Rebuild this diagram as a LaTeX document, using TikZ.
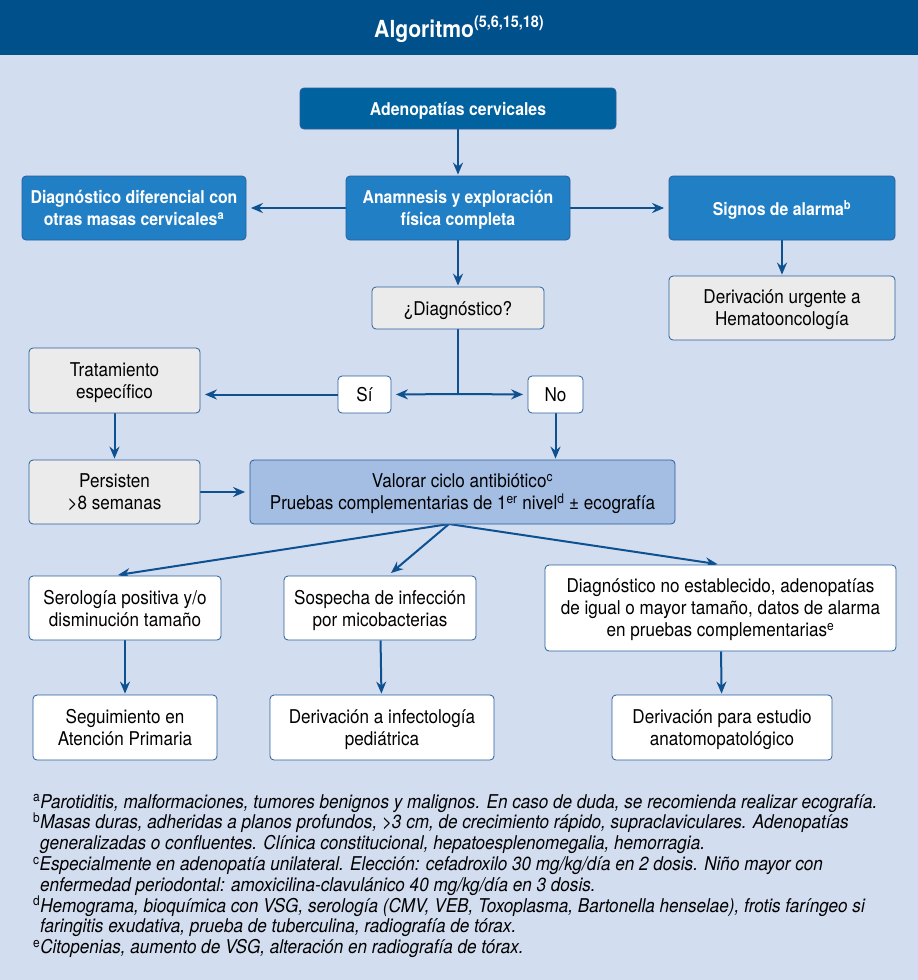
\documentclass[tikz,border=0pt]{standalone}
\usepackage{fontspec}
\setmainfont{TeX Gyre Heros}[FakeStretch=0.9]
\usetikzlibrary{arrows.meta}
\definecolor{pagebg}{RGB}{211,221,240}
\definecolor{titleblue}{RGB}{0,80,140}
\definecolor{topblue}{RGB}{0,99,160}
\definecolor{boxblue}{RGB}{33,128,197}
\definecolor{boxedge}{RGB}{40,95,155}
\definecolor{boxgrey}{RGB}{235,235,235}
\definecolor{boxlilac}{RGB}{163,189,227}
\definecolor{arrowblue}{RGB}{13,81,144}
\pgfdeclarelayer{bglayer}
\pgfdeclarelayer{nodelayer}
\pgfdeclarelayer{edgelayer}
\pgfsetlayers{bglayer,edgelayer,nodelayer,main}
\tikzstyle{box}=[shape=rectangle, rounded corners=4pt, draw=boxedge, line width=0.8pt, align=center, inner sep=2pt, text depth=0pt, font=\fontsize{19}{22}\selectfont]
\tikzstyle{dark box}=[box, fill=boxblue, text=white, font=\bfseries\fontsize{17.6}{22}\selectfont]
\tikzstyle{grey box}=[box, fill=boxgrey]
\tikzstyle{white box}=[box, fill=white]
\tikzstyle{lilac box}=[box, fill=boxlilac]
\tikzstyle{directed edge}=[-{Stealth[length=12pt,width=10pt,inset=4pt]}, draw=arrowblue, line width=2pt, shorten >=1pt]
\tikzstyle{side edge}=[directed edge, shorten >=4.5pt]
\tikzstyle{plain edge}=[draw=arrowblue, line width=2pt]

\begin{document}
\begin{tikzpicture}[x=1pt, y=-1pt]
	\begin{pgfonlayer}{bglayer}
		\useasboundingbox (0,0) rectangle (918,980);
		\fill [pagebg] (0,0) rectangle (918,980);
		\fill [titleblue] (0,0) rectangle (918,55);
	\end{pgfonlayer}
	\begin{pgfonlayer}{nodelayer}
		\node [text=white, font=\bfseries\fontsize{23.5}{26}\selectfont] (title) at (459,29) {Algoritmo\raisebox{0.42em}{\fontsize{16}{16}\selectfont(5,6,15,18)}};
		\node [style=dark box, fill=topblue, minimum width=316, minimum height=41] (0) at (458,108.5) {Adenopatías cervicales};
		\node [style=dark box, minimum width=224, minimum height=64] (1) at (134,208) {Diagnóstico diferencial con\\otras masas cervicales\textsuperscript{a}};
		\node [style=dark box, minimum width=224, minimum height=64] (2) at (458,208) {Anamnesis y exploración\\física completa};
		\node [style=dark box, minimum width=226, minimum height=64] (3) at (782,208) {Signos de alarma\textsuperscript{b}};
		\node [style=grey box, minimum width=226, minimum height=64] (4) at (782,308) {Derivación urgente a\\Hematooncología};
		\node [style=grey box, minimum width=172, minimum height=42] (5) at (458,308) {¿Diagnóstico?};
		\node [style=grey box, minimum width=171, minimum height=65] (6) at (114.5,380.5) {Tratamiento\\específico};
		\node [style=white box, minimum width=53, minimum height=37] (7) at (364.5,394.5) {Sí};
		\node [style=white box, minimum width=55, minimum height=37] (8) at (555.5,394.5) {No};
		\node [style=grey box, minimum width=171, minimum height=64] (9) at (114.5,492) {Persisten\\>8 semanas};
		\node [style=lilac box, minimum width=425, minimum height=64] (10) at (462.5,492) {Valorar ciclo antibiótico\textsuperscript{c}\\Pruebas complementarias de 1\textsuperscript{er} nivel\textsuperscript{d} ± ecografía};
		\node [style=white box, minimum width=192, minimum height=64] (11) at (125,608) {Serología positiva y/o\\disminución tamaño};
		\node [style=white box, minimum width=192, minimum height=64] (12) at (380,608) {Sospecha de infección\\por micobacterias};
		\node [style=white box, minimum width=351, minimum height=86] (13) at (720.5,608) {Diagnóstico no establecido, adenopatías\\de igual o mayor tamaño, datos de alarma\\en pruebas complementarias\textsuperscript{e}};
		\node [style=white box, minimum width=184, minimum height=65] (14) at (125,727.5) {Seguimiento en\\Atención Primaria};
		\node [style=white box, minimum width=224, minimum height=65] (15) at (382,727.5) {Derivación a infectología\\pediátrica};
		\node [style=white box, minimum width=220, minimum height=65] (16) at (722,727.5) {Derivación para estudio\\anatomopatológico};
		\coordinate (17) at (458,394);
		\coordinate (18) at (449,524);
		% notas al pie
		\node [anchor=north west, inner sep=0pt, align=left, font=\itshape\fontsize{19}{20.8}\selectfont] (notes) at (33,794) {%
			\textsuperscript{\upshape a}Parotiditis, malformaciones, tumores benignos y malignos. En caso de duda, se recomienda realizar ecografía.\\
			\textsuperscript{\upshape b}Masas duras, adheridas a planos profundos, >3 cm, de crecimiento rápido, supraclaviculares. Adenopatías\\
			\hspace*{7pt}generalizadas o confluentes. Clínica constitucional, hepatoesplenomegalia, hemorragia.\\
			\textsuperscript{\upshape c}Especialmente en adenopatía unilateral. Elección: cefadroxilo 30 mg/kg/día en 2 dosis. Niño mayor con\\
			\hspace*{7pt}enfermedad periodontal: amoxicilina-clavulánico 40 mg/kg/día en 3 dosis.\\
			\textsuperscript{\upshape d}Hemograma, bioquímica con VSG, serología (CMV, VEB, Toxoplasma, Bartonella henselae), frotis faríngeo si\\
			\hspace*{7pt}faringitis exudativa, prueba de tuberculina, radiografía de tórax.\\
			\textsuperscript{\upshape e}Citopenias, aumento de VSG, alteración en radiografía de tórax.};
	\end{pgfonlayer}
	\begin{pgfonlayer}{edgelayer}
		\draw [style=directed edge] (0) to (2);
		\draw [style=side edge] (2) to (1);
		\draw [style=side edge] (2) to (3);
		\draw [style=directed edge] (3) to (4);
		\draw [style=directed edge] (2) to (5);
		\draw [style=plain edge] (5) to (17);
		\draw [style=side edge] (17) to (7.east);
		\draw [style=side edge] (17) to (8.west);
		\draw [style=side edge] (7.west) to (7.west -| 6.east);
		\draw [style=directed edge] (6) to (9);
		\draw [style=side edge] (9.east) to (9.east -| 10.west);
		\draw [style=directed edge] (8) to (8.south |- 10.north);
		\draw [style=directed edge, shorten >=4pt] (18) to ([xshift=-11pt]11.north);
		\draw [style=directed edge, shorten >=4pt] (18) to ([xshift=8pt]12.north);
		\draw [style=directed edge, shorten >=3pt] (18) to (13.north);
		\draw [style=directed edge] (11) to (14);
		\draw [style=directed edge] (12) to (15);
		\draw [style=directed edge] (13) to (16);
	\end{pgfonlayer}
\end{tikzpicture}
\end{document}
